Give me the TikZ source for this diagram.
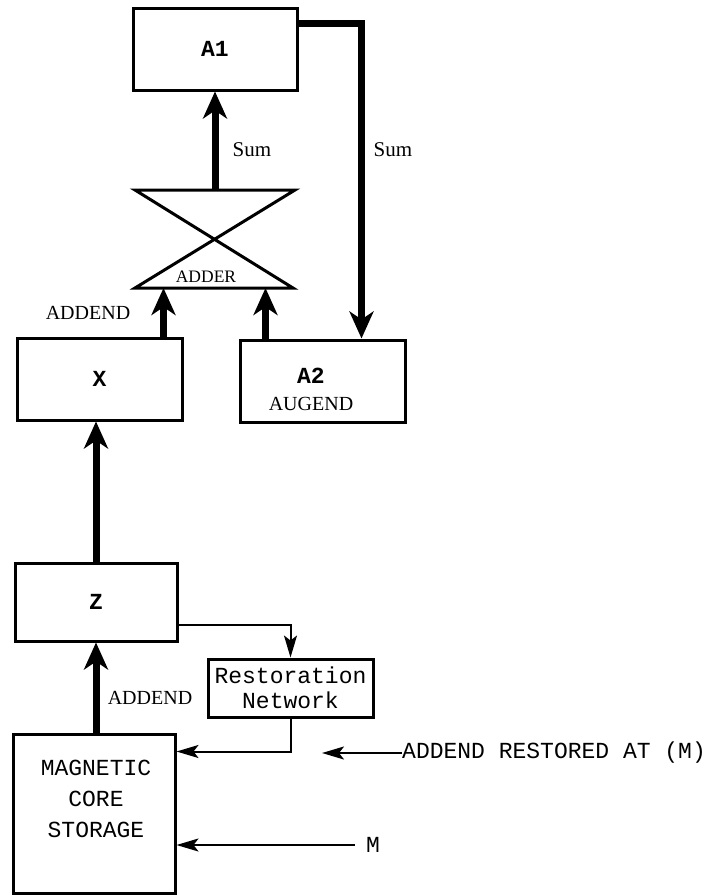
\documentclass[tikz,border=0pt]{standalone}
\usepackage{fontspec}
\setmainfont{Liberation Serif}
\setmonofont{Liberation Mono}
\usetikzlibrary{arrows.meta,positioning}

\begin{document}
\begin{tikzpicture}[x=1pt,y=-1pt,
    box/.style={draw, line width=3pt, rectangle, inner sep=0pt},
    bigarrow/.style={line width=7pt, -{Stealth[length=27pt,width=24pt,inset=8pt]}},
    smallarrow/.style={line width=2pt, -{Stealth[length=22pt,width=13pt,inset=5pt]}},
    mono/.style={font=\fontsize{23}{25}\selectfont\ttfamily},
    monobold/.style={font=\fontsize{23}{25}\selectfont\ttfamily\bfseries},
    serif/.style={font=\fontsize{20}{27}\selectfont}]
    \useasboundingbox (0,0) rectangle (719,895);

    % registers
    \node[box, monobold, minimum width=164pt, minimum height=82pt] (A1) at (215,49) {A1};
    \node[box, monobold, minimum width=165pt, minimum height=82pt] (X) at (99.5,379) {X};
    \node[box, minimum width=165pt, minimum height=82pt] (A2) at (322.5,381) {};
    \node[serif, align=center] (A2label) at (311,389)
        {{\ttfamily\bfseries\fontsize{23}{27}\selectfont A2}\\AUGEND};
    \node[box, monobold, minimum width=162pt, minimum height=78pt] (Z) at (96,602) {Z};
    \node[box, mono, minimum width=165pt, minimum height=58pt, align=center] (rest) at (290.5,688)
        {Restoration\\Network};
    \node[box, minimum width=162pt, minimum height=159pt] (mcs) at (94,813.5) {};
    \node[font=\fontsize{23}{31}\selectfont\ttfamily, align=center] (mcslabel) at (96,799)
        {MAGNETIC\\CORE\\STORAGE};

    % adder
    \coordinate (addtop) at (215,190);
    \coordinate (addbot) at (215,288);
    \draw[line width=3pt, line join=miter] (135,190) -- (295,190) -- (135,288) -- (293,288) -- cycle;
    \node[font=\fontsize{17.5}{20}\selectfont] (adder) at (206,277) {ADDER};

    % data paths
    \draw[bigarrow] (addtop) -- (A1.south);
    \draw[bigarrow, line join=miter] ([yshift=-17pt]A1.north east) -| ([xshift=-45pt]A2.north east);
    \draw[bigarrow] ([xshift=-20pt]X.north east) -- ([xshift=-20pt]X.north east |- addbot);
    \draw[bigarrow] ([xshift=27pt]A2.north west) -- ([xshift=27pt]A2.north west |- addbot);
    \draw[bigarrow] (Z.north) -- (Z.north |- X.south);
    \draw[bigarrow] (Z.north |- mcs.north) -- (Z.south);

    % restoration loop
    \coordinate (ret) at ([yshift=-19pt]mcs.north east);
    \draw[smallarrow] ([yshift=18pt]Z.south east) -| (rest.north);
    \draw[smallarrow] (rest.south) |- (ret);

    % labels
    \node[serif, font=\fontsize{21}{22}\selectfont] (sumA) at (252,150) {Sum};
    \node[serif, font=\fontsize{21}{22}\selectfont] (sumB) at (393,150) {Sum};
    \node[serif] (addendA) at (88,313) {ADDEND};
    \node[serif] (addendB) at (150,698) {ADDEND};

    \node[mono, anchor=west, inner sep=0pt] (restored) at (402,753) {ADDEND RESTORED AT (M)};
    \coordinate (restoredend) at (322,753);
    \draw[smallarrow] (restored.west) -- (restoredend);

    \node[mono] (m) at (373,845) {M};
    \draw[smallarrow, shorten <=8pt] (m.west) -- (m.west -| mcs.east);
\end{tikzpicture}
\end{document}
